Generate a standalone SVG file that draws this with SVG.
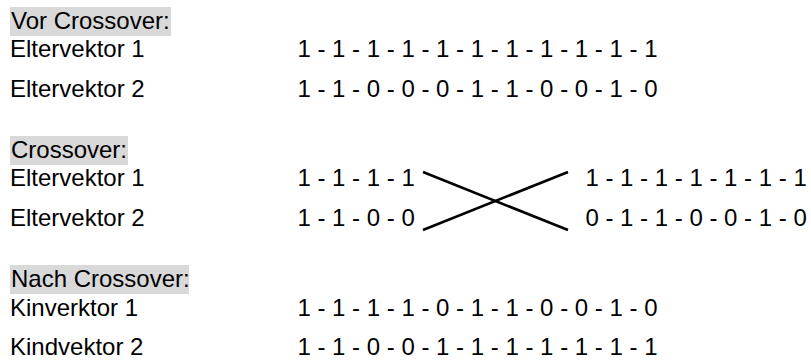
<svg xmlns="http://www.w3.org/2000/svg" width="811" height="361" viewBox="0 0 811 361">
  <style>
    text { font-family: "Liberation Sans", Arial, sans-serif; font-size: 24px; fill: #000; }
    .hl { fill: #d9d9d9; }
    .cross { stroke: #000; stroke-width: 2.6; stroke-linecap: butt; fill: none; }
  </style>
  <rect width="811" height="361" fill="#fff"/>

  <g id="block-vor">
    <rect class="hl" x="10" y="7" width="161" height="29"/>
    <text x="11" y="29">Vor Crossover:</text>
    <text x="10" y="57">Eltervektor 1</text>
    <text x="297.4" y="57">1 - 1 - 1 - 1 - 1 - 1 - 1 - 1 - 1 - 1 - 1</text>
    <text x="10" y="97">Eltervektor 2</text>
    <text x="297.4" y="97">1 - 1 - 0 - 0 - 0 - 1 - 1 - 0 - 0 - 1 - 0</text>
  </g>

  <g id="block-crossover">
    <rect class="hl" x="10" y="136" width="118" height="29"/>
    <text x="11" y="158">Crossover:</text>
    <text x="10" y="186">Eltervektor 1</text>
    <text x="297.4" y="186">1 - 1 - 1 - 1</text>
    <text x="585.4" y="186">1 - 1 - 1 - 1 - 1 - 1 - 1</text>
    <text x="10" y="226">Eltervektor 2</text>
    <text x="297.4" y="226">1 - 1 - 0 - 0</text>
    <text x="585.4" y="226">0 - 1 - 1 - 0 - 0 - 1 - 0</text>
  </g>

  <g id="connectors">
    <line class="cross" x1="423" y1="172" x2="568" y2="230"/>
    <line class="cross" x1="423" y1="230" x2="568" y2="172"/>
  </g>

  <g id="block-nach">
    <rect class="hl" x="10" y="265" width="179" height="29"/>
    <text x="11" y="287">Nach Crossover:</text>
    <text x="10" y="316">Kinverktor 1</text>
    <text x="297.4" y="316">1 - 1 - 1 - 1 - 0 - 1 - 1 - 0 - 0 - 1 - 0</text>
    <text x="10" y="355">Kindvektor 2</text>
    <text x="297.4" y="355">1 - 1 - 0 - 0 - 1 - 1 - 1 - 1 - 1 - 1 - 1</text>
  </g>
</svg>
